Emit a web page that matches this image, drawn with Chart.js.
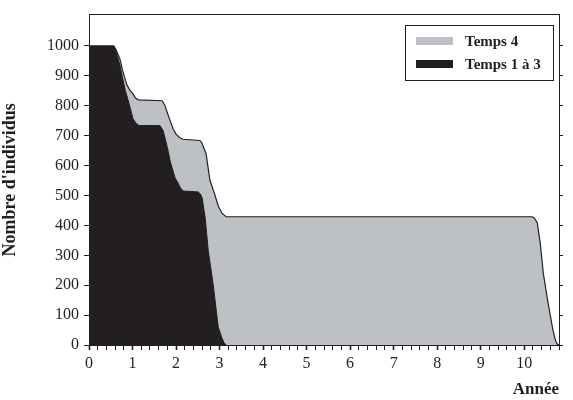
<!DOCTYPE html>
<html lang="fr">
<head>
<meta charset="utf-8">
<title>Nombre d'individus par année</title>
<script src="https://cdn.jsdelivr.net/npm/chart.js@4"></script>
<style>
    html, body { margin: 0; padding: 0; background: #ffffff; }
    #wrap { position: relative; width: 573px; height: 400px; }
</style>
</head>
<body>
<div id="wrap"><canvas id="survieChart"></canvas></div>
<script>
// Données (année, nombre d'individus)
const temps13Annees = [0, 0.57, 0.61, 0.66, 0.71, 0.77, 0.83, 0.94, 1.01, 1.08, 1.15, 1.63, 1.7, 1.75, 1.82, 1.87, 1.98, 2.03, 2.1, 2.16, 2.51, 2.56, 2.6, 2.67, 2.74, 2.85, 2.97, 3.05, 3.1, 3.15];
const temps13Valeurs = [1000, 1000, 985, 962, 937, 895, 854, 797, 757, 742, 734, 734, 718, 691, 648, 612, 558, 546, 526, 515, 512, 505, 492, 425, 316, 206, 60, 25, 8, 0];

const temps4Annees = [0, 0.57, 0.62, 0.71, 0.78, 0.87, 0.94, 1.01, 1.07, 1.13, 1.68, 1.74, 1.79, 1.86, 1.93, 2.0, 2.08, 2.16, 2.55, 2.6, 2.64, 2.69, 2.78, 2.88, 2.97, 3.06, 3.15, 10.18, 10.23, 10.3, 10.37, 10.44, 10.55, 10.66, 10.72, 10.76, 10.8];
const temps4Valeurs = [1000, 1000, 988, 957, 914, 870, 852, 840, 826, 820, 817, 803, 781, 752, 724, 705, 694, 688, 684, 674, 658, 640, 550, 508, 465, 440, 429, 429, 425, 409, 339, 239, 140, 50, 15, 3, 0];

const seriesLabels = ['Temps 1 à 3', 'Temps 4'];
const yTicks = [0, 100, 200, 300, 400, 500, 600, 700, 800, 900, 1000];
const xMajorTicks = [0, 1, 2, 3, 4, 5, 6, 7, 8, 9, 10];

document.addEventListener('DOMContentLoaded', function() {
    const noir = '#231f20';
    const gris = '#bdc1c6';
    const police = "'Liberation Serif', 'Times New Roman', serif";

    // points {x, y} pour l'échelle linéaire
    function toPoints(xs, ys) {
        return xs.map((x, i) => ({ x: x, y: ys[i] }));
    }

    // graduations mineures tous les 0,2 an
    function minorTicks() {
        const ticks = [];
        for (let i = 0; i <= 54; i++) {
            ticks.push({ value: Math.round(i * 2) / 10 });
        }
        return ticks;
    }

    function isMajor(v) {
        return xMajorTicks.indexOf(Math.round(v * 10) / 10) !== -1;
    }

    // légende encadrée dans la zone du graphique
    const legendeEncadree = {
        id: 'legendeEncadree',
        afterDraw(chart) {
            const ctx = chart.ctx;
            const x = 405, y = 25, w = 148, h = 55;
            ctx.save();
            ctx.fillStyle = '#ffffff';
            ctx.fillRect(x, y, w, h);
            ctx.strokeStyle = noir;
            ctx.lineWidth = 1;
            ctx.strokeRect(x + 0.5, y + 0.5, w, h);

            // ordre de la figure : Temps 4 puis Temps 1 à 3
            const entrees = [chart.data.datasets[1], chart.data.datasets[0]];
            ctx.font = 'bold 15px ' + police;
            ctx.textBaseline = 'middle';
            entrees.forEach(function(ds, i) {
                const cy = y + 16 + i * 23;
                ctx.fillStyle = ds.backgroundColor;
                ctx.fillRect(x + 11, cy - 4, 37, 8);
                ctx.fillStyle = noir;
                ctx.fillText(ds.label, x + 60, cy + 1);
            });
            ctx.restore();
        }
    };

    const ctx = document.getElementById('survieChart').getContext('2d');
    new Chart(ctx, {
        type: 'line',
        data: {
            datasets: [
                {
                    label: seriesLabels[0],
                    data: toPoints(temps13Annees, temps13Valeurs),
                    backgroundColor: noir,
                    borderColor: noir,
                    borderWidth: 1,
                    pointRadius: 0,
                    tension: 0,
                    fill: 'origin'
                },
                {
                    label: seriesLabels[1],
                    data: toPoints(temps4Annees, temps4Valeurs),
                    backgroundColor: gris,
                    borderColor: noir,
                    borderWidth: 1.2,
                    pointRadius: 0,
                    tension: 0,
                    fill: 'origin'
                }
            ]
        },
        options: {
            responsive: true,
            maintainAspectRatio: false,
            animation: false,
            layout: { padding: { top: 12, left: 0, right: 0, bottom: 0 } },
            plugins: {
                legend: { display: false },
                tooltip: { enabled: false }
            },
            scales: {
                x: {
                    type: 'linear',
                    position: 'bottom',
                    min: 0,
                    max: 10.8,
                    afterBuildTicks: function(scale) { scale.ticks = minorTicks(); },
                    afterFit: function(scale) { scale.height = 55; },
                    ticks: {
                        autoSkip: false,
                        maxRotation: 0,
                        padding: 4,
                        color: noir,
                        font: { family: police, size: 16 },
                        callback: function(value) {
                            return isMajor(value) ? String(Math.round(value)) : '';
                        }
                    },
                    grid: {
                        drawOnChartArea: false,
                        tickLength: 5,
                        tickColor: noir,
                        tickWidth: function(c) { return isMajor(c.tick.value) ? 1.6 : 1; }
                    },
                    border: { color: noir, width: 1 },
                    title: {
                        display: true,
                        text: 'Année',
                        align: 'end',
                        color: noir,
                        font: { family: police, size: 17, weight: 'bold' },
                        padding: { top: 0, bottom: 0 }
                    }
                },
                x2: {
                    type: 'linear',
                    position: 'top',
                    min: 0,
                    max: 10.8,
                    afterFit: function(scale) { scale.height = 0; },
                    ticks: { display: false },
                    grid: { display: false, drawTicks: false },
                    border: { display: true, color: noir, width: 1 }
                },
                y: {
                    type: 'linear',
                    position: 'left',
                    min: 0,
                    max: 1105,
                    afterBuildTicks: function(scale) { scale.ticks = yTicks.map(v => ({ value: v })); },
                    afterFit: function(scale) { scale.width = 89; },
                    ticks: {
                        padding: 5,
                        color: noir,
                        font: { family: police, size: 16 },
                        callback: function(value) { return String(value); }
                    },
                    grid: {
                        drawOnChartArea: false,
                        tickLength: 5,
                        tickColor: noir
                    },
                    border: { color: noir, width: 1 },
                    title: {
                        display: true,
                        text: "Nombre d'individus",
                        color: noir,
                        font: { family: police, size: 18, weight: 'bold' },
                        padding: { top: 0, bottom: 0 }
                    }
                },
                y2: {
                    type: 'linear',
                    position: 'right',
                    min: 0,
                    max: 1105,
                    afterBuildTicks: function(scale) { scale.ticks = yTicks.map(v => ({ value: v })); },
                    afterFit: function(scale) { scale.width = 14; },
                    ticks: { callback: function() { return ''; } },
                    grid: {
                        drawOnChartArea: false,
                        tickLength: 4,
                        tickColor: noir
                    },
                    border: { color: noir, width: 1 }
                }
            }
        },
        plugins: [legendeEncadree]
    });
});
</script>
</body>
</html>
